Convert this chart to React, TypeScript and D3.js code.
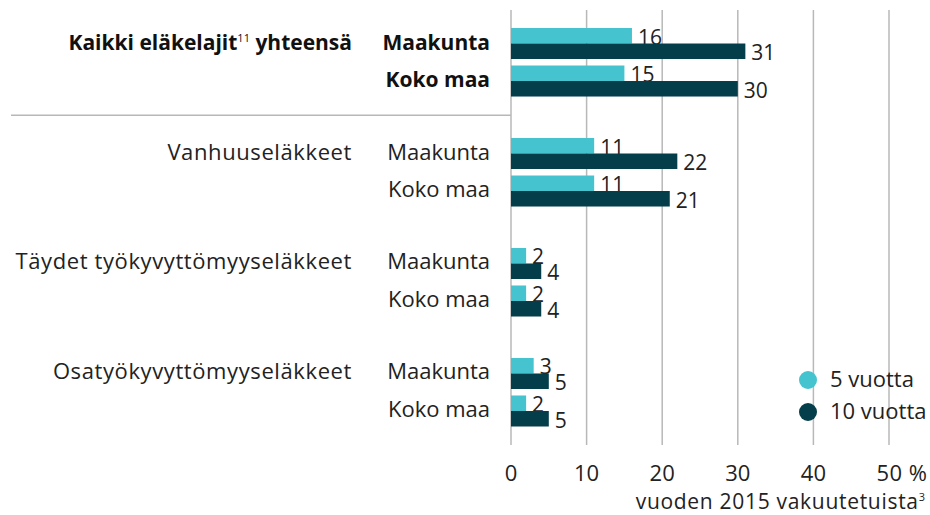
import React from "react";
import * as d3 from "d3";

// data
const groups = ["Kaikki eläkelajit", "Vanhuuseläkkeet", "Täydet työkyvyttömyyseläkkeet", "Osatyökyvyttömyyseläkkeet"];
const places = ["Maakunta", "Koko maa"];
const seriesNames = ["5 vuotta", "10 vuotta"];
const fiveYears = [16, 15, 11, 11, 2, 2, 3, 2]; // group x place
const tenYears = [31, 30, 22, 21, 4, 4, 5, 5];
const xTicks = [0, 10, 20, 30, 40, 50];

const W = 930;
const H = 515;
const FONT = "'Open Sans', 'DejaVu Sans', sans-serif";
const colors = ["#45c3cf", "#033e4a"];
const gridColor = "#b8b8b8";
const textColor = "#222";

export default function App() {
  const x = d3.scaleLinear().domain([0, 50]).range([511, 889]);

  // outer band: one band per pension type
  const yGroup = d3.scaleBand<string>().domain(groups).range([28, 426.5]).paddingInner(0.377).paddingOuter(0);
  const yPlace = d3.scaleBand<string>().domain(places).range([0, yGroup.bandwidth()]).paddingInner(0.173);
  const ySeries = d3.scaleBand<string>().domain(seriesNames).range([0, yPlace.bandwidth()]);

  const rows = groups.flatMap((g, gi) =>
    places.map((p, pi) => ({
      group: g,
      place: p,
      bold: gi === 0,
      values: [fiveYears[gi * 2 + pi], tenYears[gi * 2 + pi]],
      top: (yGroup(g) ?? 0) + (yPlace(p) ?? 0),
    }))
  );

  const sepY = ((yGroup(groups[0]) ?? 0) + yGroup.bandwidth() + (yGroup(groups[1]) ?? 0)) / 2 - 2;

  return (
    <div style={{ position: "absolute", left: 0, top: 0 }}>
      <svg width={W} height={H} style={{ display: "block", fontFamily: FONT }}>
        <rect width={W} height={H} fill="#fff" />

        {/* gridlines */}
        {xTicks.map((t) => (
          <line key={t} x1={x(t)} x2={x(t)} y1={10} y2={445} stroke={gridColor} strokeWidth={1.5} />
        ))}
        <line x1={11} x2={x(0)} y1={sepY} y2={sepY} stroke={gridColor} strokeWidth={1.5} />

        {/* tick labels */}
        {xTicks.map((t, i) =>
          i === xTicks.length - 1 ? (
            <text key={t} x={x(t)} dx="-0.57em" y={481} fontSize={22} fill={textColor} textAnchor="start" letterSpacing={0.5}>
              {t} %
            </text>
          ) : (
            <text key={t} x={x(t)} y={481} fontSize={22} fill={textColor} textAnchor="middle">
              {t}
            </text>
          )
        )}
        <text x={925} y={509} fontSize={21} fill={textColor} textAnchor="end" letterSpacing={0.7}>
          vuoden 2015 vakuutetuista
          <tspan fontSize={11} dy={-8} letterSpacing={0}>3</tspan>
        </text>

        {/* group labels */}
        {groups.map((g, gi) => {
          const cy = (yGroup(g) ?? 0) + (yPlace(places[0]) ?? 0) + yPlace.bandwidth() / 2 + 6;
          if (gi === 0) {
            return (
              <text key={g} x={352} y={cy} fontSize={21} fontWeight={700} fill="#111" textAnchor="end">
                {g}
                <tspan fontSize={11} fontWeight={400} dy={-8}>11</tspan>
                <tspan dy={8}> yhteensä</tspan>
              </text>
            );
          }
          return (
            <text key={g} x={352} y={cy} fontSize={22} fill={textColor} textAnchor="end" letterSpacing={0.6}>
              {g}
            </text>
          );
        })}

        {/* bars */}
        {rows.map((r) => (
          <g key={r.group + r.place}>
            <text
              x={490}
              y={r.top + yPlace.bandwidth() / 2 + 6}
              fontSize={r.bold ? 21 : 22}
              fontWeight={r.bold ? 700 : 400}
              fill={r.bold ? "#111" : textColor}
              textAnchor="end"
            >
              {r.place}
            </text>
            {r.values.map((v, si) => {
              const by = r.top + (ySeries(seriesNames[si]) ?? 0);
              return (
                <g key={si}>
                  <rect x={x(0)} y={by} width={x(v) - x(0)} height={ySeries.bandwidth()} fill={colors[si]} />
                  <text x={x(v) + 6} y={by + ySeries.bandwidth() + 1} fontSize={21} fill={textColor}>
                    {v}
                  </text>
                </g>
              );
            })}
          </g>
        ))}

        {/* legend */}
        {seriesNames.map((s, i) => (
          <g key={s} transform={`translate(808, ${380 + i * 32})`}>
            <circle r={9} fill={colors[i]} />
            <text x={22} y={7} fontSize={22} fill={textColor}>
              {s}
            </text>
          </g>
        ))}
      </svg>
    </div>
  );
}
